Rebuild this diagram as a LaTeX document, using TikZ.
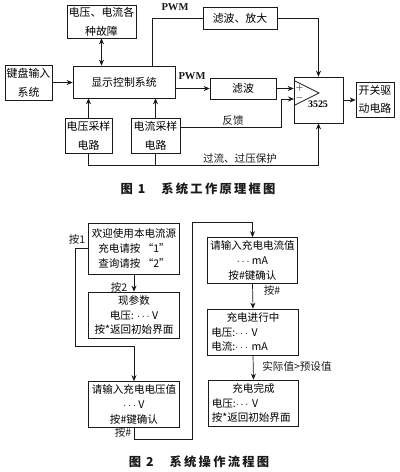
\documentclass[tikz,border=0pt]{standalone}
\usepackage{fontspec}
\usepackage{tikz}
\usepackage{xcolor}
\usetikzlibrary{arrows.meta,positioning,calc}
\setmainfont{Liberation Serif}
\newfontfamily\cjk{Noto Sans CJK SC}
\newfontfamily\cjkcap[LetterSpace=18]{Noto Sans CJK SC}
\definecolor{ink}{HTML}{1A1A1A}
\definecolor{paper}{HTML}{FFFFFF}
\newcommand{\dotsval}{$\cdots$}
\tikzset{
  blkbox/.style={draw=ink,fill=paper,line width=0.6pt,
                 align=center,inner sep=1pt,
                 font=\cjk\fontsize{9.3}{16}\selectfont},
  flowbox/.style={draw=ink,fill=paper,line width=0.6pt,
                  minimum width=2.72cm,minimum height=1.38cm,
                  align=center,inner sep=2pt,
                  font=\cjk\fontsize{9}{12.5}\selectfont},
  sigline/.style={line width=0.6pt,draw=ink},
  sigarr/.style={-{Stealth[length=1.8mm,width=1.5mm]},line width=0.6pt,draw=ink},
  dblarr/.style={{Stealth[length=1.8mm,width=1.5mm]}-{Stealth[length=1.8mm,width=1.5mm]},line width=0.6pt,draw=ink},
  siglabel/.style={font=\cjk\fontsize{9}{11}\selectfont,inner sep=1pt,text=ink},
  pwmlabel/.style={font=\bfseries\fontsize{9}{11}\selectfont,inner sep=1pt,text=ink},
  figcap/.style={font=\cjkcap\bfseries\fontsize{10.5}{12}\selectfont,text=ink}
}

\begin{document}
\begin{tikzpicture}[x=0.03cm,y=-0.03cm]
  \useasboundingbox[fill=paper] (0,0) rectangle (400,472);

  % figure 1
  \node[blkbox,minimum width=2.07cm,minimum height=0.99cm] (fault) at (101.5,21.5) {电压、电流各\\种故障};
  \node[blkbox,minimum width=1.41cm,minimum height=1.05cm] (keyb) at (28.5,82.5) {键盘输入\\系统};
  \node[blkbox,minimum width=3.06cm,minimum height=0.96cm] (disp) at (124,82) {显示控制系统};
  \node[blkbox,minimum width=2.22cm,minimum height=0.66cm] (filtamp) at (240,18) {滤波、放大};
  \node[blkbox,minimum width=1.98cm,minimum height=0.63cm] (filt) at (243,88.5) {滤波};
  \node[blkbox,minimum width=1.47cm,minimum height=1.38cm] (chip) at (318.5,100) {};
  \node[blkbox,minimum width=1.14cm,minimum height=1.05cm] (drive) at (375,99.5) {开关驱\\动电路};
  \node[blkbox,minimum width=1.41cm,minimum height=1.05cm] (vsamp) at (88.5,135.5) {电压采样\\电路};
  \node[blkbox,minimum width=1.47cm,minimum height=1.05cm] (isamp) at (155.5,135.5) {电流采样\\电路};

  \draw[sigline] (294,80.5) -- (319,93) -- (294,105.5);
  \node[font=\fontsize{8}{9}\selectfont,inner sep=0pt] (plus) at (299.5,88) {$+$};
  \node[font=\fontsize{8}{9}\selectfont,inner sep=0pt] (minus) at (299.5,98.5) {$-$};
  \node[font=\bfseries\fontsize{8.5}{10}\selectfont,inner sep=0pt] (chipname) at (318,104.5) {3525};
  \coordinate (minusin) at (294,99);

  \draw[dblarr] (fault.south) -- (fault.south |- disp.north);
  \draw[sigarr] (keyb.east) -- (keyb.east -| disp.west);
  \draw[sigline] (152,0 |- disp.north) |- (filtamp.west);
  \draw[sigarr] (filtamp.east) -| (chip.north);
  \draw[sigarr] (disp.east |- filt.west) -- (filt.west);
  \draw[sigarr] (filt.east) -- (filt.east -| chip.west);
  \draw[sigarr] ([yshift=0.25cm]isamp.east) -| ([xshift=-0.39cm]minusin) -- (minusin);
  \draw[sigarr] (chip.east) -- (chip.east -| drive.west);
  \draw[sigarr] (vsamp.north) -- (vsamp.north |- disp.south);
  \draw[sigarr] (isamp.north) -- (isamp.north |- disp.south);
  \draw[sigarr] (vsamp.south) -- ++(0,12) -| (chip.south);
  \draw[sigline] (isamp.south) -- ++(0,12);

  \node[pwmlabel] (pwma) at (175,7) {PWM};
  \node[pwmlabel] (pwmb) at (192,76.5) {PWM};
  \node[siglabel] (fblab) at (233,121) {反馈};
  \node[siglabel] (protlab) at (240,159) {过流、过压保护};
  \node[figcap] (cap1) at (198,189) {图 1\hspace{1.3em}系统工作原理框图};

  % figure 2
  \node[flowbox,minimum height=1.53cm] (welcome) at (134,248.5) {欢迎使用本电流源\\充电请按 “1”\\查询请按 “2”};
  \node[flowbox] (query) at (134,315) {现参数\\电压: \dotsval\ V\\按*返回初始界面};
  \node[flowbox] (setv) at (134,404.5) {请输入充电电压值\\\dotsval\ V\\按\#键确认};
  \node[flowbox] (seti) at (252.5,260.5) {请输入充电电流值\\\dotsval\ mA\\按\#键确认};
  \node[flowbox,text width=2.5cm,align=left] (charging) at (253,332) {\hfill 充电进行中\hfill\null\\电压:\dotsval\ V\\电流:\dotsval\ mA};
  \node[flowbox,text width=2.5cm,align=left] (done) at (253.5,403) {\hfill 充电完成\hfill\null\\电压:\dotsval\ V\\按*返回初始界面};

  \draw[sigarr] (welcome.south) -- (query.north);
  \draw[sigarr] (welcome.west) -- ++(-13,0) |- ([yshift=1.05cm]setv.north) -- (setv.north);
  \draw[sigarr] (setv.south) -- ++(0,11) -| ($(seti.west |- welcome.north)+(-14,0)$) -| (seti.north);
  \draw[sigarr] (seti.south) -- (charging.north);
  \draw[sigarr] (charging.south) -- (done.north);

  \node[siglabel] (key1) at (77,239.5) {按1};
  \node[siglabel] (key2) at (119,287) {按2};
  \node[siglabel] (keyc) at (123,432) {按\#};
  \node[siglabel] (keyd) at (272,290) {按\#};
  \node[siglabel] (over) at (297,366) {实际值>预设值};
  \node[figcap] (cap2) at (199,462) {图 2\hspace{1.3em}系统操作流程图};
\end{tikzpicture}
\end{document}
